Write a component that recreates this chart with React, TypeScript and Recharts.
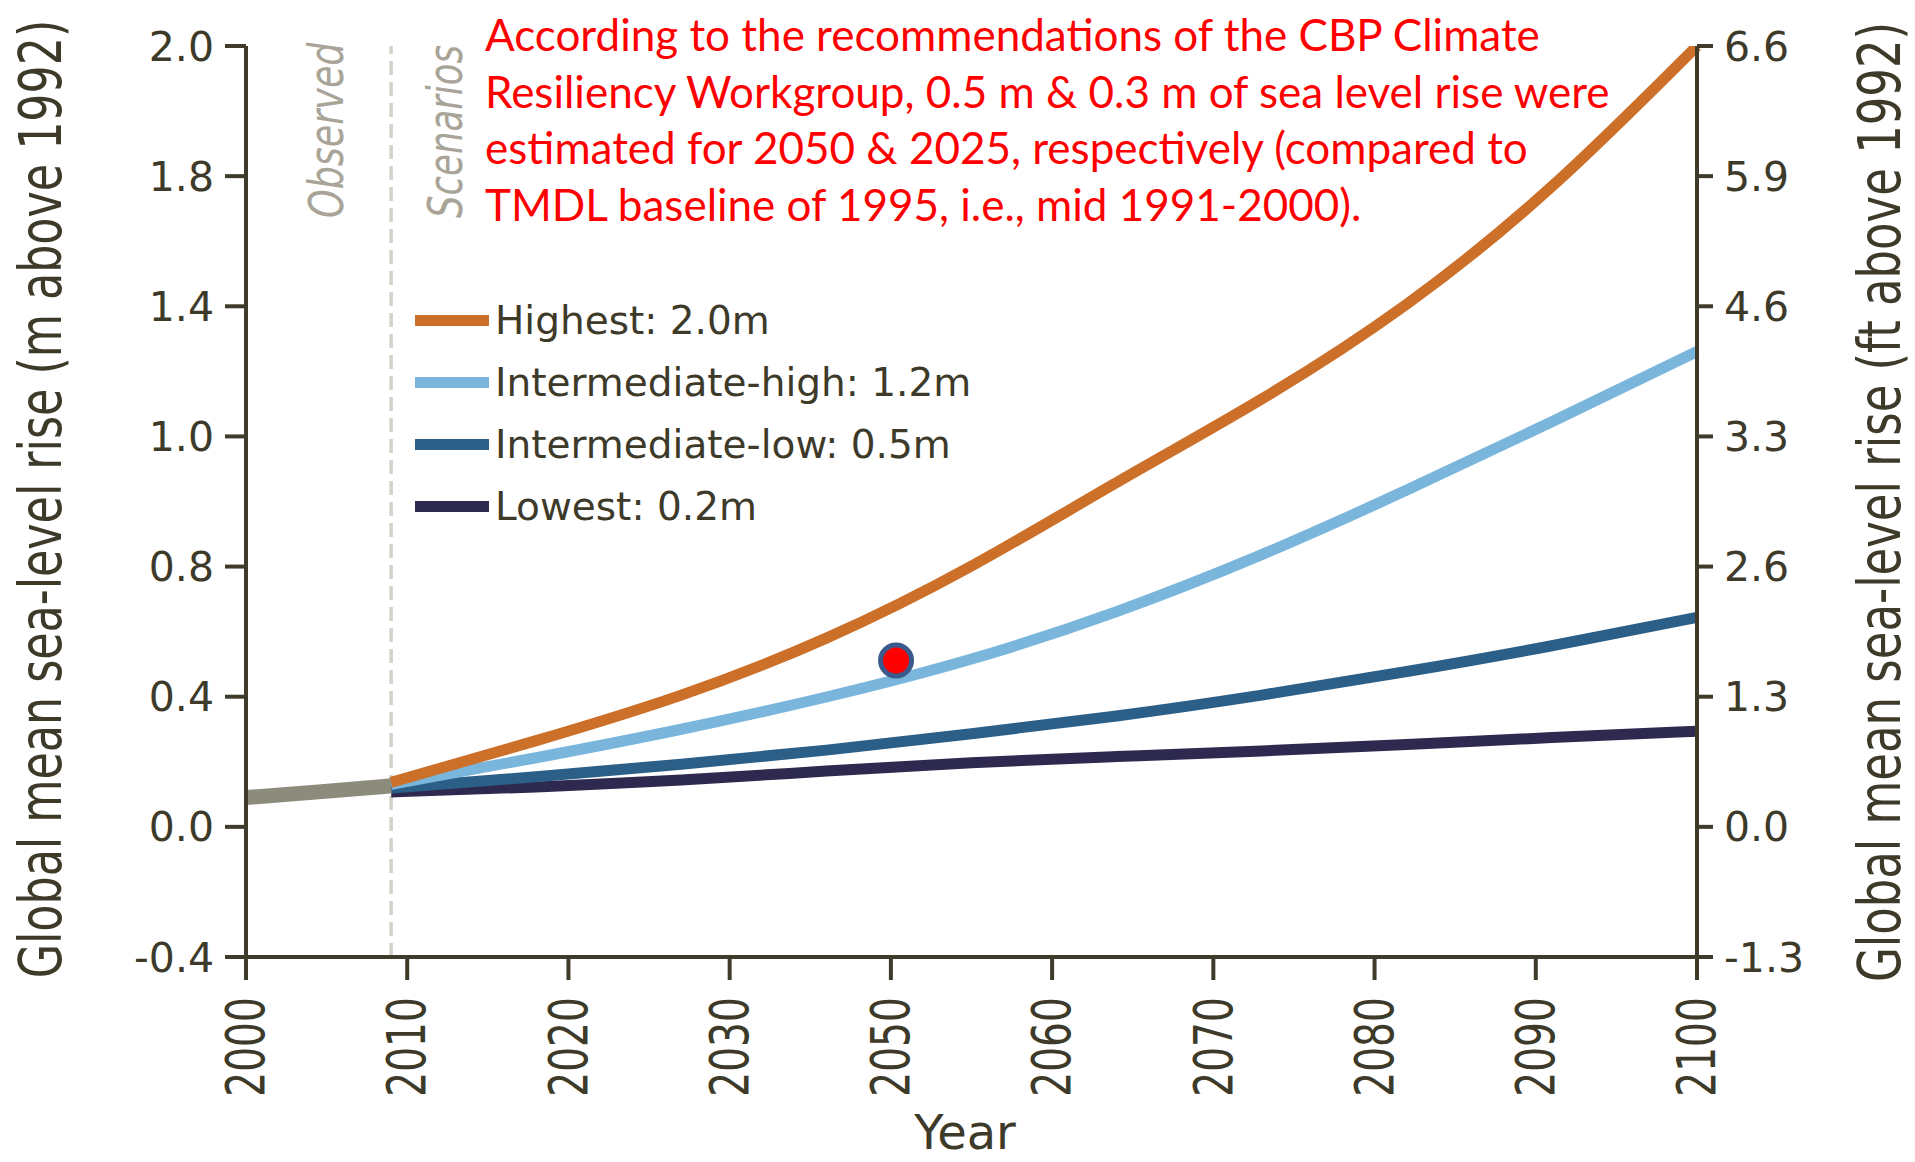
import { LineChart, Line, XAxis, YAxis, ReferenceLine, ReferenceDot, Legend } from 'recharts';

// observed record (grey) and the four scenarios, metres above 1992
const observedYears = [2000, 2005, 2010];
const observedValues = [0.02, 0.035, 0.051];

const scenarioYears = [2010, 2020, 2030, 2040, 2050, 2060, 2070, 2080, 2090, 2100];
const highest = [0.06, 0.17, 0.29, 0.44, 0.63, 0.85, 1.07, 1.32, 1.63, 2.0];
const intermediateHigh = [0.055, 0.125, 0.2, 0.285, 0.385, 0.51, 0.66, 0.83, 1.01, 1.195];
const intermediateLow = [0.045, 0.075, 0.108, 0.145, 0.188, 0.235, 0.29, 0.352, 0.42, 0.495];
const lowest = [0.035, 0.048, 0.066, 0.09, 0.112, 0.128, 0.143, 0.16, 0.178, 0.195];

const legendNames = ['Highest: 2.0m', 'Intermediate-high: 1.2m', 'Intermediate-low: 0.5m', 'Lowest: 0.2m'];
const legendColors = ['#cc7029', '#7ab5dc', '#2c5f88', '#2e2a4f'];

// tick labels as printed (evenly spaced on the axes)
const xTickLabels = ['2000', '2010', '2020', '2030', '2050', '2060', '2070', '2080', '2090', '2100'];
const mTickLabels = ['-0.4', '0.0', '0.4', '0.8', '1.0', '1.4', '1.8', '2.0'];
const ftTickLabels = ['-1.3', '0.0', '1.3', '2.6', '3.3', '4.6', '5.9', '6.6'];

const observedEnd = 2010;
const markYear = 2044.8;
const markValue = 0.381;

const noteLines = [
  'According to the recommendations of the CBP Climate',
  'Resiliency Workgroup, 0.5 m & 0.3 m of sea level rise were',
  'estimated for 2050 & 2025, respectively (compared to',
  'TMDL baseline of 1995, i.e., mid 1991-2000).',
];

const W = 1915;
const H = 1162;
const INK = '#3d3a2a';
const AXIS = '#3f3b2b';
const FONT = '"DejaVu Sans", sans-serif';

const yDomain: [number, number] = [-0.4, 2.0];
const yTicks = mTickLabels.map((_, i) => -0.4 + (i * 2.4) / 7);
const xTicks = xTickLabels.map((_, i) => 2000 + (i * 100) / 9);

const years = Array.from(new Set([...observedYears, ...scenarioYears])).sort((a, b) => a - b);
const data = years.map((year) => {
  const o = observedYears.indexOf(year);
  const s = scenarioYears.indexOf(year);
  return {
    year,
    observed: o >= 0 ? observedValues[o] : undefined,
    highest: s >= 0 ? highest[s] : undefined,
    intermediateHigh: s >= 0 ? intermediateHigh[s] : undefined,
    intermediateLow: s >= 0 ? intermediateLow[s] : undefined,
    lowest: s >= 0 ? lowest[s] : undefined,
  };
});

const YearTick = (props: any) => {
  const { x, y, index } = props;
  return (
    <text
      transform={`translate(${x},${y}) rotate(-90) scale(0.74,1)`}
      textAnchor="end"
      dominantBaseline="central"
      fill={INK}
      fontSize={53}
      fontFamily={FONT}
    >
      {xTickLabels[index]}
    </text>
  );
};

const LegendBox = () => (
  <div style={{ fontFamily: FONT, fontSize: 39, color: INK }}>
    {legendNames.map((name, i) => (
      <div key={name} style={{ display: 'flex', alignItems: 'center', height: 62 }}>
        <div style={{ width: 74, height: 11, background: legendColors[i], marginRight: 6 }} />
        <span style={{ lineHeight: 1, whiteSpace: 'nowrap' }}>{name}</span>
      </div>
    ))}
  </div>
);

const axisLine = { stroke: AXIS, strokeWidth: 4 };
const tickStyle = { fill: INK, fontSize: 41, fontFamily: FONT };

export default function App() {
  return (
    <div style={{ position: 'absolute', left: 0, top: 0, width: W, height: H, overflow: 'hidden', background: '#fff' }}>
      <LineChart width={W} height={H} data={data} margin={{ top: 46, right: 0, bottom: 0, left: 0 }}>
        <XAxis
          dataKey="year"
          type="number"
          domain={[2000, 2100]}
          ticks={xTicks}
          interval={0}
          height={205}
          tickSize={23}
          tickMargin={17}
          axisLine={axisLine}
          tickLine={axisLine}
          tick={<YearTick />}
        />
        <YAxis
          yAxisId="m"
          type="number"
          domain={yDomain}
          allowDataOverflow
          ticks={yTicks}
          interval={0}
          width={246}
          tickSize={21}
          tickMargin={11}
          axisLine={axisLine}
          tickLine={axisLine}
          tick={tickStyle}
          tickFormatter={(_v: number, i: number) => mTickLabels[i]}
        />
        <YAxis
          yAxisId="ft"
          type="number"
          orientation="right"
          domain={yDomain}
          allowDataOverflow
          ticks={yTicks}
          interval={0}
          width={218}
          tickSize={16}
          tickMargin={11}
          axisLine={axisLine}
          tickLine={axisLine}
          tick={tickStyle}
          tickFormatter={(_v: number, i: number) => ftTickLabels[i]}
        />
        <Legend layout="vertical" align="center" verticalAlign="middle" wrapperStyle={{ left: 415, top: 289, width: 'auto' }} content={<LegendBox />} />
        <ReferenceLine yAxisId="m" x={observedEnd} stroke="#d3d2c8" strokeWidth={3.5} strokeDasharray="14 7" />
        <Line yAxisId="m" type="natural" dataKey="lowest" stroke={legendColors[3]} strokeWidth={11} dot={false} isAnimationActive={false} legendType="none" />
        <Line yAxisId="m" type="natural" dataKey="intermediateLow" stroke={legendColors[2]} strokeWidth={11} dot={false} isAnimationActive={false} legendType="none" />
        <Line yAxisId="m" type="natural" dataKey="intermediateHigh" stroke={legendColors[1]} strokeWidth={11} dot={false} isAnimationActive={false} legendType="none" />
        <Line yAxisId="m" type="natural" dataKey="highest" stroke={legendColors[0]} strokeWidth={11} dot={false} isAnimationActive={false} legendType="none" />
        {/* same domain on both axes; binding the record to the ft axis makes it draw its ticks */}
        <Line yAxisId="ft" type="monotone" dataKey="observed" stroke="#8d8b7c" strokeWidth={15} dot={false} isAnimationActive={false} legendType="none" />
        <ReferenceDot yAxisId="m" x={markYear} y={markValue} r={15.5} fill="#ff0000" stroke="#3b5a8b" strokeWidth={5} />
      </LineChart>
      <svg width={W} height={H} style={{ position: 'absolute', left: 0, top: 0, pointerEvents: 'none' }}>
        <text transform="translate(61,499) rotate(-90) scale(0.765,1)" textAnchor="middle" fontSize={58} fontFamily={FONT} fill={INK}>
          Global mean sea-level rise (m above 1992)
        </text>
        <text transform="translate(1900,502) rotate(-90) scale(0.775,1)" textAnchor="middle" fontSize={58} fontFamily={FONT} fill={INK}>
          Global mean sea-level rise (ft above 1992)
        </text>
        <text transform="translate(343,218) rotate(-90) scale(0.76,1)" fontSize={48} fontStyle="italic" fontFamily={FONT} fill="#a8a498">
          Observed
        </text>
        <text transform="translate(462,218) rotate(-90) scale(0.74,1)" fontSize={48} fontStyle="italic" fontFamily={FONT} fill="#a8a498">
          Scenarios
        </text>
        <text x={965} y={1149} textAnchor="middle" fontSize={48} fontFamily={FONT} fill={INK}>
          Year
        </text>
        {noteLines.map((line, i) => (
          <text key={i} x={485} y={51 + i * 56.7} fontSize={44} fontFamily="Lato, sans-serif" fill="#ff0000">
            {line}
          </text>
        ))}
      </svg>
    </div>
  );
}
